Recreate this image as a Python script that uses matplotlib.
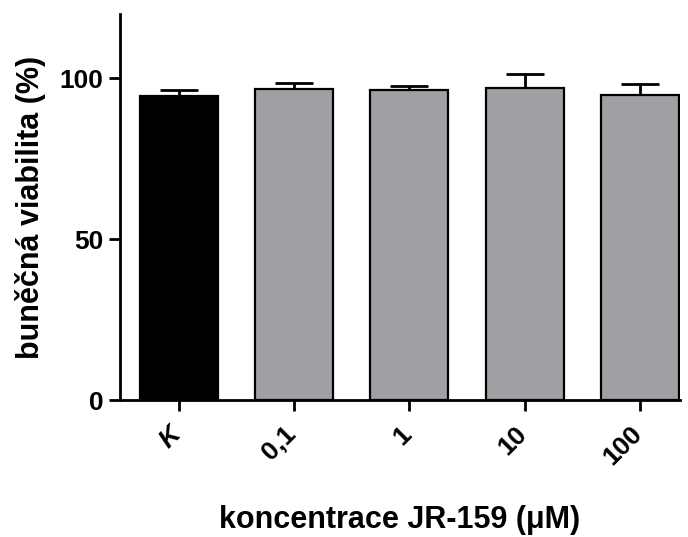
import matplotlib
matplotlib.use("Agg")
import matplotlib.pyplot as plt
from matplotlib.transforms import ScaledTranslation

plt.rcParams['font.family'] = ['Liberation Sans', 'DejaVu Sans']
plt.rcParams['font.weight'] = 'bold'

categories = ['K', '0,1', '1', '10', '100']
viability = [94.5, 96.7, 96.3, 96.9, 94.9]
sd_upper = [1.8, 1.8, 1.3, 4.3, 3.2]
bar_colors = ['black', '#a09fa4', '#a09fa4', '#a09fa4', '#a09fa4']

fig = plt.figure(figsize=(6.88, 5.37), dpi=100)
ax = fig.add_axes([0.1744, 0.2545, 0.8136, 0.7195])

x = list(range(len(categories)))
ax.bar(x, viability, width=0.675, color=bar_colors, edgecolor='black',
       linewidth=1.6, zorder=2)
ax.errorbar(x, viability, yerr=[[0] * len(sd_upper), sd_upper], fmt='none',
            ecolor='black', elinewidth=2, capsize=13.5, capthick=2, zorder=1)

ax.set_xlim(-0.51, 4.345)
ax.set_ylim(0, 120)
ax.set_yticks([0, 50, 100])
ax.set_xticks(x)
ax.set_xticklabels([])

# rotated category labels, placed just below-left of each tick
lbl_tf = ax.get_xaxis_transform() + ScaledTranslation(-0.02, -0.30, fig.dpi_scale_trans)
for i, cat in zip(x, categories):
    ax.text(i, 0, cat, transform=lbl_tf, rotation=45, ha='right', va='center',
            rotation_mode='anchor', fontsize=19, fontweight='bold',
            style='italic' if cat == 'K' else 'normal', clip_on=False)

for side in ['top', 'right']:
    ax.spines[side].set_visible(False)
for side in ['left', 'bottom']:
    ax.spines[side].set_linewidth(2)

ax.tick_params(axis='both', width=2, length=8, labelsize=19)
ax.tick_params(axis='y', pad=4)

ax.set_ylabel('buněčná viabilita (%)', fontsize=22, fontweight='bold', labelpad=10)
ax.set_xlabel('koncentrace JR-159 (μM)', fontsize=22, fontweight='bold', labelpad=64)

fig.savefig('out.png', dpi=100)
